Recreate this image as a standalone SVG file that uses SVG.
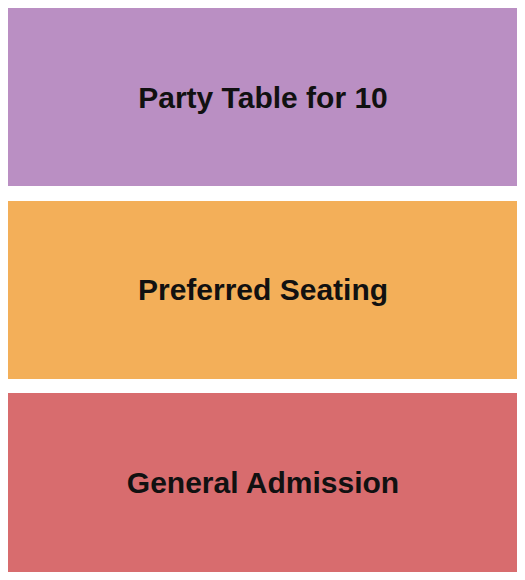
<svg xmlns="http://www.w3.org/2000/svg" width="525" height="580" viewBox="0 0 525 580">
<style>
.t{font-family:"Liberation Sans",Arial,sans-serif;font-weight:bold;font-size:30px;fill:#111;text-anchor:middle}
</style>
<rect width="525" height="580" fill="#fff"/>
<g id="party"><rect x="8" y="8" width="509" height="178" fill="#BA8FC3"/><text class="t" x="263" y="108">Party Table for 10</text></g>
<g id="preferred"><rect x="8" y="201" width="509" height="178" fill="#F3AF59"/><text class="t" x="263" y="300">Preferred Seating</text></g>
<g id="general"><rect x="8" y="393" width="509" height="179" fill="#D86C6E"/><text class="t" x="263" y="493">General Admission</text></g>
<g id="connectors"/>
</svg>
